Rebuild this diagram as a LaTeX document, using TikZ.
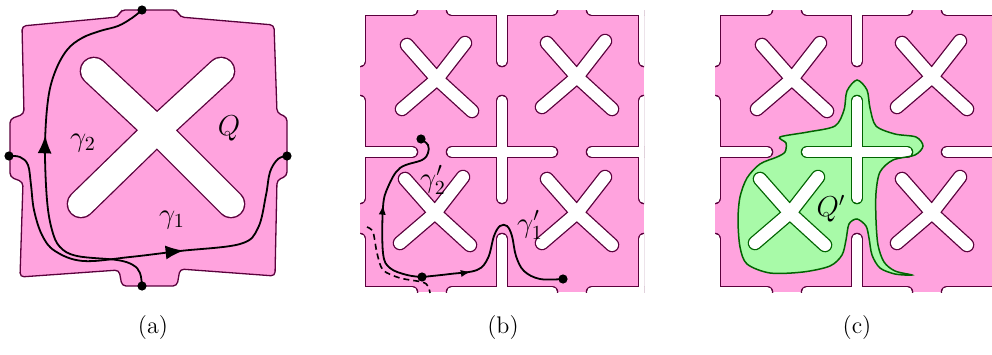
\documentclass[tikz,border=0pt]{standalone}
\usepackage{xcolor}
\usepackage{amsmath}
\usepackage{tikz}
\usetikzlibrary{arrows.meta, decorations.markings}
\definecolor{tilepink}{RGB}{255,163,222}
\definecolor{tileline}{RGB}{90,0,60}
\definecolor{qgreen}{RGB}{168,250,168}
\definecolor{qline}{RGB}{0,100,0}
\tikzset{
  tile/.style={fill=tilepink, draw=tileline, line width=0.65pt, rounded corners=2pt},
  bigrim/.style={draw=#1, line width=14.3pt, line cap=round, line join=round},
  bighole/.style={draw=white, line width=13pt, line cap=round, line join=round},
  xrim/.style={draw=#1, line width=7.3pt, line cap=round, line join=round},
  xhole/.style={draw=white, line width=6pt, line cap=round, line join=round},
  slitrim/.style={draw=#1, line width=6.3pt, line cap=round},
  slit/.style={draw=white, line width=5pt, line cap=round},
  dot/.style={circle, fill=black, inner sep=0pt, minimum size=4.6pt},
  curve/.style={line width=0.9pt, black},
  bigarrow/.style={postaction={decorate}, decoration={markings,
    mark=at position #1 with {\arrow{Latex[length=9pt,width=7pt]}}}},
  smallarrow/.style={postaction={decorate}, decoration={markings,
    mark=at position #1 with {\arrow{Latex[length=5pt,width=3.6pt]}}}},
  lbl/.style={font=\Large},
  caption/.style={font=\large}
}
% slits between the tiles of the 2x2 patch
\newcommand{\patchslits}[1]{%
  \foreach \sx in {360,502,644}
    \foreach \ya/\yb in {-10/61,101/198,239/310}
      \draw[#1] (\sx,\ya) -- (\sx,\yb);
  \foreach \sy in {10,152,292}
    \foreach \xa/\xb in {340/412,452/552,592/660}
      \draw[#1] (\xa,\sy) -- (\xb,\sy);
}
% X-shaped holes of the 2x2 patch
\newcommand{\patchxs}[1]{%
  \foreach \cx/\cy in {437/79,577/77,435/213,577/213}
    \draw[#1, shift={(\cx,\cy)}] (-30,-34) -- (0,0) -- (35,32)
      (28,-36) -- (0,0) -- (-35,30);
}
% outline of the region Q'
\newcommand{\qblob}{plot[smooth cycle, tension=0.5] coordinates {(780,137) (808,132)
  (835,126) (844,110) (847,91) (857,80) (867,90) (870,108) (876,126) (895,134) (916,137)
  (923,146) (915,155) (893,160) (880,172) (876,193) (876,220) (878,245) (884,262)
  (895,271) (912,275) (895,274) (880,268) (872,255) (869,238) (866,226) (857,219)
  (849,224) (846,240) (842,255) (830,266) (803,272) (770,273) (747,264) (740,247)
  (738,220) (740,197) (747,178) (760,164) (777,157) (785,152) (786,143)}}

\begin{document}
\begin{tikzpicture}[x=0.5pt, y=-0.5pt]
  \useasboundingbox (0,0) rectangle (992,354);

  % (a) one tile
  \draw[tile] (22,26) -- (118,17) -- (121,10) -- (177,10) -- (180,17) -- (274,25)
    -- (277,113) -- (287,117) -- (287,176) -- (277,180) -- (275,276)
    -- (180,269) -- (177,286) -- (122,286) -- (119,270) -- (20,277)
    -- (23,182) -- (10,177) -- (10,119) -- (24,114) -- cycle;
  \draw[bigrim=tileline] (94,71) -- (157,130) -- (231,204) (221,71) -- (157,130) -- (81,204);
  \draw[bighole] (94,71) -- (157,130) -- (231,204) (221,71) -- (157,130) -- (81,204);

  \node[dot] (a-left) at (9,156) {};
  \node[dot] (a-right) at (287,156) {};
  \node[dot] (a-top) at (142,10) {};
  \node[dot] (a-bot) at (142,286) {};

  \draw[curve, bigarrow=0.6] plot[smooth, tension=0.6] coordinates {(a-left.center) (20,157)
    (28,165) (31,185) (34,210) (42,235) (55,251) (83,261) (130,257) (180,251) (240,244)
    (258,228) (266,195) (270,172) (278,159) (a-right.center)};
  \draw[curve, bigarrow=0.55] plot[smooth, tension=0.6] coordinates {(a-bot.center) (140,273)
    (133,265) (117,260) (77,256) (60,247) (52,230) (47,200) (45,147) (48,100) (55,72)
    (67,50) (82,38) (100,31) (118,26) (132,18) (a-top.center)};

  \node[lbl] (a-g2) at (83,143) {$\gamma_2$};
  \node[lbl] (a-q) at (229,128) {$Q$};
  \node[lbl] (a-g1) at (172,220) {$\gamma_1$};
  \node[caption] (cap-a) at (153,328) {(a)};

  % (b) 2x2 patch
  \begin{scope}
    \clip (360,10) rectangle (644,292);
    \fill[tilepink] (360,10) rectangle (644,292);
    \patchslits{slitrim=tileline}
    \patchxs{xrim=tileline}
    \patchslits{slit}
    \patchxs{xhole}
  \end{scope}

  \node[dot] (b-top) at (421,139) {};
  \node[dot] (b-mid) at (422,277) {};
  \node[dot] (b-end) at (563,279) {};
  \coordinate (b-dstart) at (367,227);
  \coordinate (b-dend) at (430,293);

  \draw[curve, dashed, line width=0.8pt, dash pattern=on 3pt off 2pt] plot[smooth]
    coordinates {(b-dstart) (373,232) (377,253) (383,270) (400,278) (422,282) (428,286) (b-dend)};
  \draw[curve, smallarrow=0.52] plot[smooth, tension=0.6] coordinates {(b-mid.center)
    (407,275) (390,268) (383,253) (383,207) (388,187) (400,168) (422,160) (428,153)
    (428,145) (b-top.center)};
  \draw[curve, smallarrow=0.24] plot[smooth, tension=0.6] coordinates {(b-mid.center)
    (450,274) (477,270) (488,258) (494,236) (500,226) (507,226) (512,236) (516,256)
    (524,271) (540,279) (b-end.center)};

  \node[lbl] (b-g2) at (433,180) {$\gamma_2'$};
  \node[lbl] (b-g1) at (530,225) {$\gamma_1'$};
  \node[caption] (cap-b) at (503,328) {(b)};

  % (c) patch with the region Q'
  \begin{scope}[shift={(355,0)}]
    \clip (360,10) rectangle (644,292);
    \fill[tilepink] (360,10) rectangle (644,292);
    \patchslits{slitrim=tileline}
    \patchxs{xrim=tileline}
    \patchslits{slit}
    \patchxs{xhole}
  \end{scope}
  \fill[qgreen] \qblob;
  \begin{scope}
    \clip \qblob;
    \begin{scope}[shift={(355,0)}]
      \patchslits{slitrim=qline}
      \patchxs{xrim=qline}
      \patchslits{slit}
      \patchxs{xhole}
    \end{scope}
  \end{scope}
  \draw[qline, line width=0.75pt] \qblob;

  \node[lbl] (c-q) at (831,209) {$Q'$};
  \node[caption] (cap-c) at (857,328) {(c)};
\end{tikzpicture}
\end{document}
